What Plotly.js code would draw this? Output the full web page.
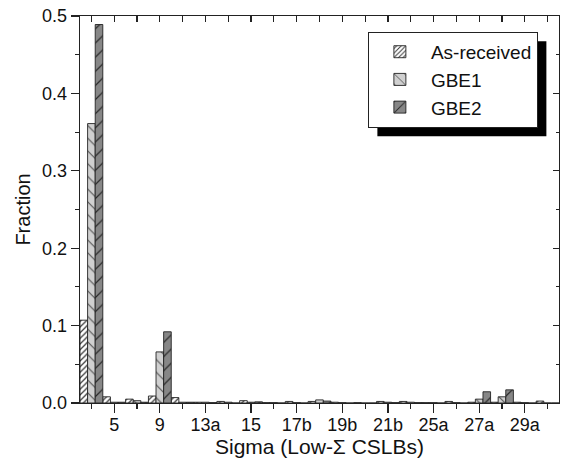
<!DOCTYPE html>
<html>
<head>
<meta charset="utf-8">
<script src="https://cdn.plot.ly/plotly-3.0.1.min.js"></script>
<style>html,body{margin:0;padding:0;background:#fff;}#chart{width:565px;height:463px;}</style>
</head>
<body>
<div id="chart"></div>
<script>
// Categories (CSL sigma values)
const categories = ["3","5","7","9","11","13a","13b","15","17a","17b","19a","19b","21a","21b","23","25a","25b","27a","27b","29a","29b"];
const majorLabels = ["5","9","13a","15","17b","19b","21b","25a","27a","29a"];
const seriesNames = ["As-received","GBE1","GBE2"];
const asReceived = [0.107,0.008,0.005,0.009,0.007,0.001,0.002,0.003,0.0005,0.002,0.002,0.001,0.0005,0.002,0.002,0.0005,0.002,0.001,0.001,0.001,0.0025];
const gbe1       = [0.361,0.001,0.003,0.066,0.001,0.001,0.001,0.001,0.0005,0.0005,0.004,0.0005,0,0.001,0.001,0.0005,0.0005,0.005,0.008,0.0005,0];
const gbe2       = [0.489,0.001,0.001,0.092,0.001,0.0005,0,0.0015,0,0,0.0025,0,0,0.0005,0.0005,0,0,0.0145,0.017,0,0];
const xTitle = "Sigma (Low-Σ CSLBs)";
const yTitle = "Fraction";

const FONT = "Liberation Sans, Arial, sans-serif";
const lineC = "#222222";

function bar(name, y, bg, fg, shape, size, solidity) {
  return {
    type: "bar", name: name, x: categories, y: y,
    marker: {
      color: bg,
      line: {color: lineC, width: 0.9},
      pattern: {shape: shape, bgcolor: bg, fgcolor: fg, size: size, solidity: solidity, fillmode: "replace"}
    },
    hoverinfo: "skip"
  };
}

const traces = [
  bar(seriesNames[0], asReceived, "#ffffff", "#333333", "/", 4, 0.3),
  bar(seriesNames[1], gbe1, "#d0d0d0", "#505050", "\\", 9, 0.12),
  bar(seriesNames[2], gbe2, "#878787", "#2a2a2a", "/", 10, 0.12)
];

const allIdx = categories.map((c, i) => i);
const majIdx = majorLabels.map(l => categories.indexOf(l));
const xr = [-0.5, categories.length - 0.5];

const layout = {
  width: 565, height: 463,
  margin: {l: 80, r: 6, t: 16, b: 60, autoexpand: false},
  paper_bgcolor: "#fff", plot_bgcolor: "#fff",
  font: {family: FONT, size: 18, color: "#111"},
  barmode: "group", bargap: 0, bargroupgap: 0,
  showlegend: true,
  legend: {
    x: 0.601, y: 0.959, xanchor: "left", yanchor: "top",
    bgcolor: "#ffffff", bordercolor: "#222", borderwidth: 1,
    font: {family: FONT, size: 19, color: "#111"},
    itemwidth: 52, tracegroupgap: 0
  },
  xaxis: {
    type: "category", categoryorder: "array", categoryarray: categories,
    range: xr, tickmode: "array", tickvals: categories,
    ticktext: categories.map(c => majorLabels.includes(c) ? c : ""),
    ticks: "outside", ticklen: 5, tickwidth: 1.2, tickcolor: lineC,
    showline: true, linecolor: lineC, linewidth: 1.4, showgrid: false, zeroline: false,
    tickfont: {family: FONT, size: 18, color: "#111"}
  },
  xaxis3: {
    overlaying: "x", side: "bottom", type: "linear", range: xr,
    tickmode: "array", tickvals: majIdx, showticklabels: false,
    ticks: "outside", ticklen: 9, tickwidth: 1.2, tickcolor: lineC,
    showline: false, showgrid: false, zeroline: false
  },
  xaxis2: {
    overlaying: "x", side: "top", type: "linear", range: xr,
    tickmode: "array", tickvals: allIdx, showticklabels: false,
    ticks: "inside", ticklen: 6, tickwidth: 1.2, tickcolor: lineC,
    showline: true, linecolor: lineC, linewidth: 1.4, showgrid: false, zeroline: false
  },
  yaxis: {
    range: [0, 0.5], dtick: 0.1, tickformat: ".1f",
    ticks: "outside", ticklen: 8, tickwidth: 1.2, tickcolor: lineC,
    minor: {dtick: 0.05, ticks: "outside", ticklen: 4, tickwidth: 1.2, tickcolor: lineC, showgrid: false},
    showline: true, linecolor: lineC, linewidth: 1.4, showgrid: false, zeroline: false,
    tickfont: {family: FONT, size: 18, color: "#111"},
    title: {text: yTitle, font: {family: FONT, size: 20, color: "#111"}, standoff: 6}
  },
  yaxis2: {
    overlaying: "y", side: "right", range: [0, 0.5], dtick: 0.1,
    showticklabels: false,
    ticks: "inside", ticklen: 6, tickwidth: 1.2, tickcolor: lineC,
    minor: {dtick: 0.05, ticks: "inside", ticklen: 3, tickwidth: 1.2, tickcolor: lineC, showgrid: false},
    showline: true, linecolor: lineC, linewidth: 1.4, showgrid: false, zeroline: false
  },
  annotations: [{
    text: xTitle, xref: "paper", yref: "paper", x: 0.5, y: -0.112,
    xanchor: "center", yanchor: "middle", showarrow: false,
    font: {family: FONT, size: 21, color: "#111"}
  }]
};

// invisible helper traces to anchor overlay axes
traces.push({type: "scatter", x: [], y: [], xaxis: "x2", yaxis: "y2", showlegend: false, hoverinfo: "skip"});
traces.push({type: "scatter", x: [], y: [], xaxis: "x3", yaxis: "y", showlegend: false, hoverinfo: "skip"});

Plotly.newPlot("chart", traces, layout, {displayModeBar: false, staticPlot: true}).then(gd => {
  // drop shadow behind the legend box, offset by a few pixels
  const bg = gd.querySelector("g.legend rect.bg");
  if (!bg) return;
  const r = bg.getBoundingClientRect();
  const c = gd.getBoundingClientRect();
  const fs = gd._fullLayout._size;
  const px = v => (v - c.left - fs.l) / fs.w;
  const py = v => 1 - (v - c.top - fs.t) / fs.h;
  const off = 9;
  return Plotly.relayout(gd, {shapes: [{
    type: "rect", xref: "paper", yref: "paper",
    x0: px(r.left + off), x1: px(r.right + off),
    y0: py(r.bottom + off), y1: py(r.top + off),
    fillcolor: "#000", line: {width: 0}, layer: "above"
  }]});
});
</script>
</body>
</html>
